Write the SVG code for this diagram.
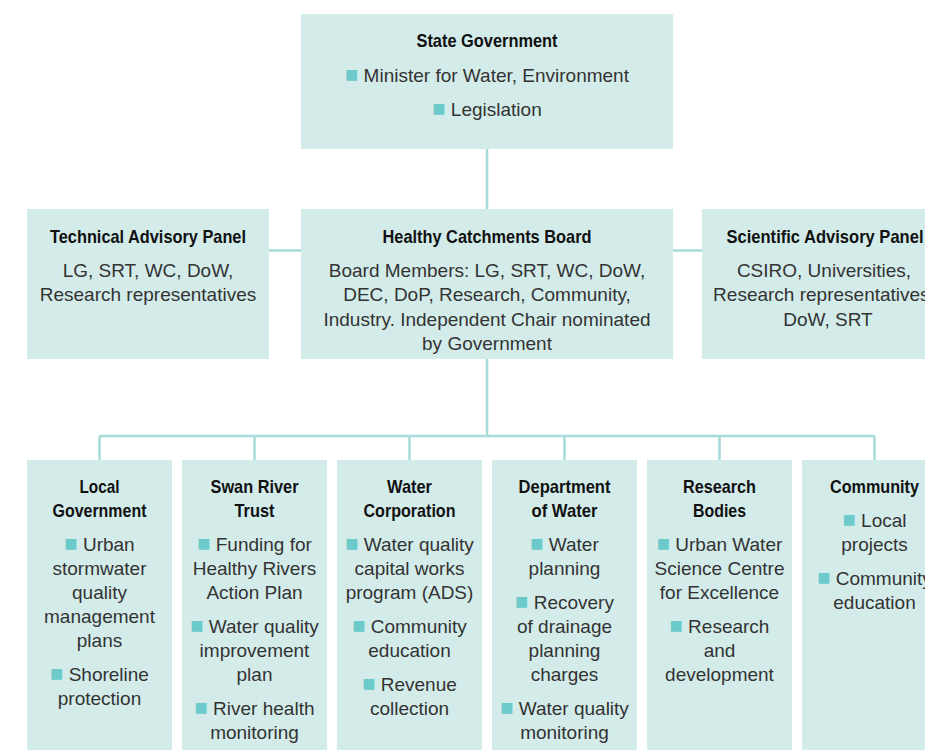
<svg xmlns="http://www.w3.org/2000/svg" width="925" height="750" viewBox="0 0 925 750">
  <style>
    .box { fill: #d3ecea; }
    .t { font-family: "Liberation Sans", Arial, sans-serif; font-weight: bold; font-size: 18.5px; fill: #111; text-anchor: middle; }
    .x { font-family: "Liberation Sans", Arial, sans-serif; font-size: 19px; fill: #333; text-anchor: middle; }
    .b { fill: #6ccaca; font-size: 22px; }
    .c { stroke: #a8dcdb; stroke-width: 2.5; fill: none; }
  </style>
  <rect width="925" height="750" fill="#ffffff"/>

  <g id="connectors">
    <path class="c" d="M487 149 V209 M269 250.5 H301 M673 250.5 H702 M487 359 V436 M99.5 436 H874.5 M99.5 436 V460 M254.5 436 V460 M409.5 436 V460 M564.5 436 V460 M719.5 436 V460 M874.5 436 V460"/>
  </g>

  <g id="state-government">
    <rect class="box" x="301" y="14" width="372" height="135"/>
    <text class="t" x="487" y="47" textLength="141" lengthAdjust="spacingAndGlyphs">State Government</text>
    <text class="x" x="487" y="82"><tspan class="b">■</tspan> Minister for Water, Environment</text>
    <text class="x" x="487" y="116"><tspan class="b">■</tspan> Legislation</text>
  </g>

  <g id="technical-advisory-panel">
    <rect class="box" x="27" y="209" width="242" height="150"/>
    <text class="t" x="148" y="242.5" textLength="196" lengthAdjust="spacingAndGlyphs">Technical Advisory Panel</text>
    <text class="x" x="148" y="277">LG, SRT, WC, DoW,</text>
    <text class="x" x="148" y="301">Research representatives</text>
  </g>

  <g id="healthy-catchments-board">
    <rect class="box" x="301" y="209" width="372" height="150"/>
    <text class="t" x="487" y="242.5" textLength="209" lengthAdjust="spacingAndGlyphs">Healthy Catchments Board</text>
    <text class="x" x="487" y="277">Board Members: LG, SRT, WC, DoW,</text>
    <text class="x" x="487" y="301.3">DEC, DoP, Research, Community,</text>
    <text class="x" x="487" y="325.7">Industry. Independent Chair nominated</text>
    <text class="x" x="487" y="350">by Government</text>
  </g>

  <g id="scientific-advisory-panel">
    <rect class="box" x="702" y="209" width="242" height="150"/>
    <text class="t" x="825" y="242.5" textLength="197" lengthAdjust="spacingAndGlyphs">Scientific Advisory Panel</text>
    <text class="x" x="824" y="277">CSIRO, Universities,</text>
    <text class="x" x="824" y="301">Research representatives,</text>
    <text class="x" x="828" y="325.5">DoW, SRT</text>
  </g>

  <g id="local-government">
    <rect class="box" x="27" y="460" width="145" height="300"/>
    <text class="t" x="99.5" y="493" textLength="40" lengthAdjust="spacingAndGlyphs">Local</text>
    <text class="t" x="99.5" y="517" textLength="94" lengthAdjust="spacingAndGlyphs">Government</text>
    <text class="x" x="99.5" y="551"><tspan class="b">■</tspan> Urban</text>
    <text class="x" x="99.5" y="575">stormwater</text>
    <text class="x" x="99.5" y="599">quality</text>
    <text class="x" x="99.5" y="623">management</text>
    <text class="x" x="99.5" y="647">plans</text>
    <text class="x" x="99.5" y="681"><tspan class="b">■</tspan> Shoreline</text>
    <text class="x" x="99.5" y="705">protection</text>
  </g>

  <g id="swan-river-trust">
    <rect class="box" x="182" y="460" width="145" height="300"/>
    <text class="t" x="254.5" y="493" textLength="88" lengthAdjust="spacingAndGlyphs">Swan River</text>
    <text class="t" x="254.5" y="517" textLength="40" lengthAdjust="spacingAndGlyphs">Trust</text>
    <text class="x" x="254.5" y="551"><tspan class="b">■</tspan> Funding for</text>
    <text class="x" x="254.5" y="575">Healthy Rivers</text>
    <text class="x" x="254.5" y="599">Action Plan</text>
    <text class="x" x="254.5" y="633"><tspan class="b">■</tspan> Water quality</text>
    <text class="x" x="254.5" y="657">improvement</text>
    <text class="x" x="254.5" y="681">plan</text>
    <text class="x" x="254.5" y="715"><tspan class="b">■</tspan> River health</text>
    <text class="x" x="254.5" y="739">monitoring</text>
  </g>

  <g id="water-corporation">
    <rect class="box" x="337" y="460" width="145" height="300"/>
    <text class="t" x="409.5" y="493" textLength="45" lengthAdjust="spacingAndGlyphs">Water</text>
    <text class="t" x="409.5" y="517" textLength="92" lengthAdjust="spacingAndGlyphs">Corporation</text>
    <text class="x" x="409.5" y="551"><tspan class="b">■</tspan> Water quality</text>
    <text class="x" x="409.5" y="575">capital works</text>
    <text class="x" x="409.5" y="599">program (ADS)</text>
    <text class="x" x="409.5" y="633"><tspan class="b">■</tspan> Community</text>
    <text class="x" x="409.5" y="657">education</text>
    <text class="x" x="409.5" y="691"><tspan class="b">■</tspan> Revenue</text>
    <text class="x" x="409.5" y="715">collection</text>
  </g>

  <g id="department-of-water">
    <rect class="box" x="492" y="460" width="145" height="300"/>
    <text class="t" x="564.5" y="493" textLength="92" lengthAdjust="spacingAndGlyphs">Department</text>
    <text class="t" x="564.5" y="517" textLength="66" lengthAdjust="spacingAndGlyphs">of Water</text>
    <text class="x" x="564.5" y="551"><tspan class="b">■</tspan> Water</text>
    <text class="x" x="564.5" y="575">planning</text>
    <text class="x" x="564.5" y="609"><tspan class="b">■</tspan> Recovery</text>
    <text class="x" x="564.5" y="633">of drainage</text>
    <text class="x" x="564.5" y="657">planning</text>
    <text class="x" x="564.5" y="681">charges</text>
    <text class="x" x="564.5" y="715"><tspan class="b">■</tspan> Water quality</text>
    <text class="x" x="564.5" y="739">monitoring</text>
  </g>

  <g id="research-bodies">
    <rect class="box" x="647" y="460" width="145" height="300"/>
    <text class="t" x="719.5" y="493" textLength="73" lengthAdjust="spacingAndGlyphs">Research</text>
    <text class="t" x="719.5" y="517" textLength="53" lengthAdjust="spacingAndGlyphs">Bodies</text>
    <text class="x" x="719.5" y="551"><tspan class="b">■</tspan> Urban Water</text>
    <text class="x" x="719.5" y="575">Science Centre</text>
    <text class="x" x="719.5" y="599">for Excellence</text>
    <text class="x" x="719.5" y="633"><tspan class="b">■</tspan> Research</text>
    <text class="x" x="719.5" y="657">and</text>
    <text class="x" x="719.5" y="681">development</text>
  </g>

  <g id="community">
    <rect class="box" x="802" y="460" width="145" height="300"/>
    <text class="t" x="874.5" y="493" textLength="89" lengthAdjust="spacingAndGlyphs">Community</text>
    <text class="x" x="874.5" y="527"><tspan class="b">■</tspan> Local</text>
    <text class="x" x="874.5" y="551">projects</text>
    <text class="x" x="874.5" y="585"><tspan class="b">■</tspan> Community</text>
    <text class="x" x="874.5" y="609">education</text>
  </g>
</svg>
